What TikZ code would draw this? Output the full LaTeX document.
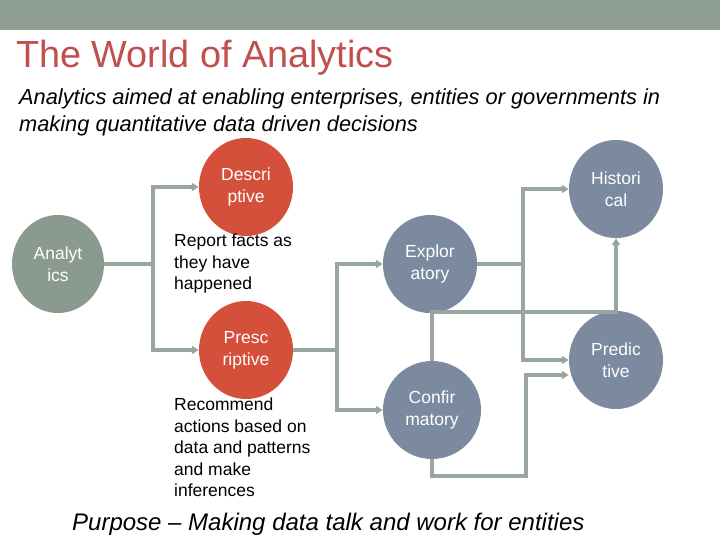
\documentclass[tikz,border=0pt]{standalone}
\usepackage{fontspec}
\setmainfont{Liberation Sans}
\usetikzlibrary{arrows.meta,shapes.geometric}
\definecolor{band}{HTML}{8E9E92}
\definecolor{ttl}{HTML}{C0504D}
\definecolor{redc}{HTML}{D4503A}
\definecolor{grnc}{HTML}{8A9A8F}
\definecolor{bluc}{HTML}{7B8A9F}
\definecolor{lnc}{HTML}{99A69F}
\begin{document}
\begin{tikzpicture}[x=1pt,y=-1pt,
  circ/.style={ellipse,minimum width=94pt,minimum height=98pt,inner sep=0pt,align=center,text=white,font=\fontsize{17.5}{22}\selectfont},
  conn/.style={draw=lnc,line width=3.5pt},
  arr/.style={conn,-{Triangle[length=7pt,width=8pt]}},
  desc/.style={anchor=north west,align=left,font=\fontsize{17.5}{21.5}\selectfont,inner sep=0pt}]
\useasboundingbox (0,0) rectangle (720,540);
\fill[band] (0,0) rectangle (720,30);
\node[anchor=west,text=ttl,font=\fontsize{37.8}{40}\selectfont,inner sep=0pt] (title) at (16,58) {The World of Analytics};
\node[anchor=north west,align=left,font=\fontsize{21.8}{27}\selectfont\itshape,inner sep=0pt] (sub) at (19,89) {Analytics aimed at enabling enterprises, entities or governments in\\making quantitative data driven decisions};
\node[circ,fill=grnc,minimum width=92pt] (an) at (58,264) {Analyt\\ics};
\node[circ,fill=redc] (de) at (246,187) {Descri\\ptive};
\node[circ,fill=redc] (pr) at (246,350) {Presc\\riptive};
\node[circ,fill=bluc] (ex) at (430,264) {Explor\\atory};
\node[circ,fill=bluc,minimum width=98pt] (co) at (432,410) {Confir\\matory};
\node[circ,fill=bluc] (hi) at (616,189) {Histori\\cal};
\node[circ,fill=bluc] (pd) at (616,360) {Predic\\tive};
\node[desc] (t1) at (174,234) {Report facts as\\they have\\happened};
\node[desc] (t2) at (174,398) {Recommend\\actions based on\\data and patterns\\and make\\inferences};
\node[anchor=west,font=\fontsize{24}{26}\selectfont\itshape,inner sep=0pt] (purp) at (72,524) {Purpose – Making data talk and work for entities};
% connectors
\coordinate (j1) at (153,264);
\draw[conn] (an.east) -- (j1);
\draw[arr] (j1) |- (de.west);
\draw[arr] (j1) |- (pr.west);
\coordinate (j2) at (337,350);
\draw[conn] (pr.east) -- (j2);
\draw[arr] (j2) |- (ex.west);
\draw[arr] (j2) |- (co.west);
\coordinate (j3) at (523,264);
\draw[conn] (ex.east) -- (j3);
\draw[arr] (j3) |- (hi.west);
\draw[arr] (j3) |- (pd.west);
\coordinate (c1) at (432,476);
\coordinate (c2) at (526,476);
\draw[arr] (co.south) -- (c1) -- (c2) |- ([yshift=-15pt]pd.west);
\coordinate (d1) at (432,312);
\coordinate (d2) at (616,312);
\draw[arr] (co.north) -- (d1) -- (d2) -- (hi.south);
\end{tikzpicture}
\end{document}
